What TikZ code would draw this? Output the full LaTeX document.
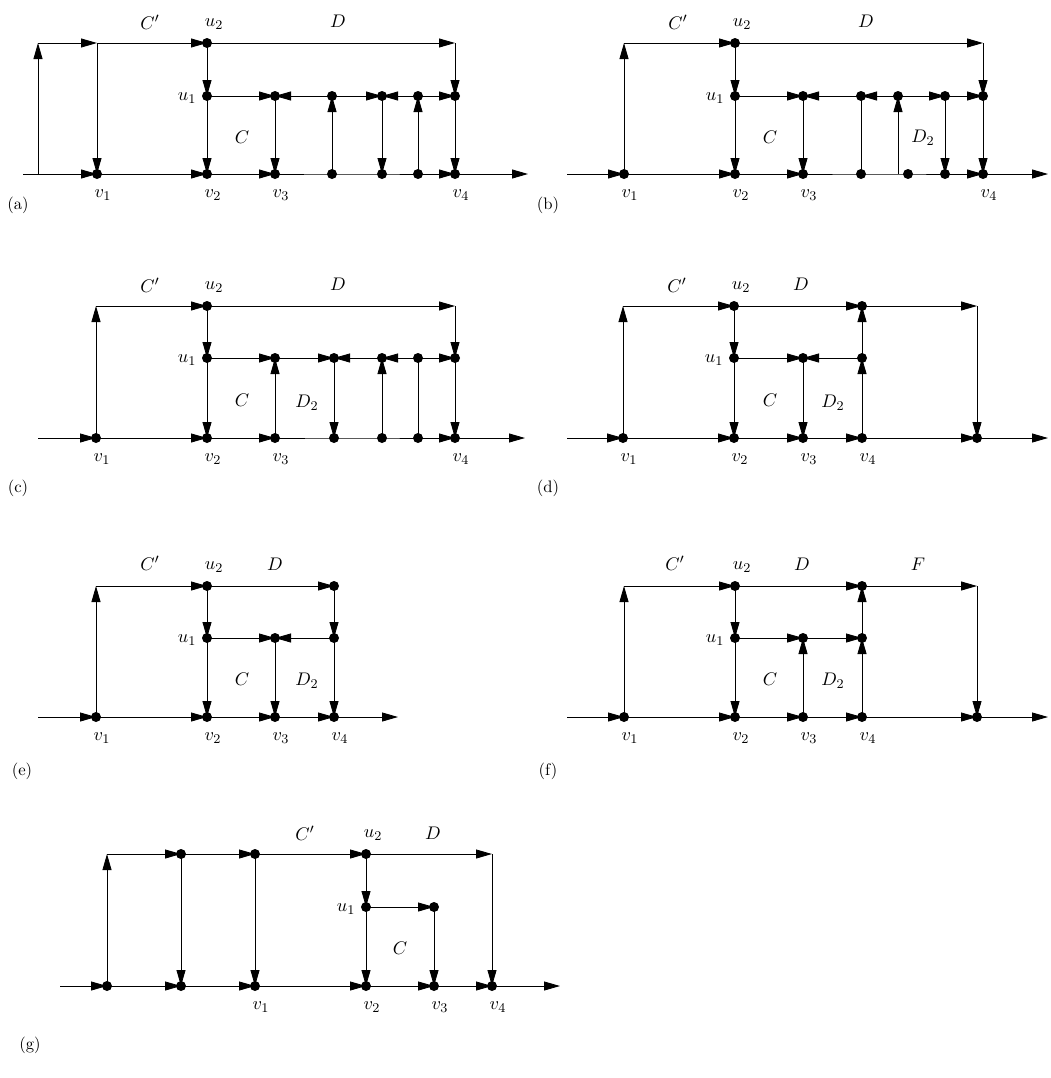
\documentclass[tikz,border=0pt]{standalone}
\usetikzlibrary{arrows.meta,calc}
\begin{document}
\begin{tikzpicture}[x=0.6pt,y=-0.6pt,
  ln/.style={line width=0.5pt},
  ar/.style={line width=0.5pt,-{Triangle[length=9.6pt,width=5.4pt]}},
  lab/.style={inner sep=0pt,font=\fontsize{11}{13}\selectfont},
  plab/.style={inner sep=0pt,font=\fontsize{10}{12}\selectfont}]
\useasboundingbox (0,0) rectangle (1051,1078);
\newcommand{\putdots}[1]{\foreach \p in {#1} {\fill (\p) circle (3pt);}}
\newcommand{\ulab}[1]{\node[lab] at ($(#1)+(7,-19)$) {$u_2$};}
\newcommand{\vlab}[2]{\node[lab] at ($(#1)+(6,21)$) {$#2$};}
\newcommand{\uonelab}[1]{\node[lab] at ($(#1)+(-20,2)$) {$u_1$};}

% ---------------- (a)
\coordinate (a-s) at (23,174); \coordinate (a-e) at (528,174);
\coordinate (a-l) at (38,174); \coordinate (a-lt) at (38,43);
\coordinate (a-c1) at (97,43); \coordinate (a-v1) at (97,174);
\coordinate (a-u2) at (207,43); \coordinate (a-u1) at (207,96); \coordinate (a-v2) at (207,174);
\coordinate (a-m3) at (275,96); \coordinate (a-v3) at (275,174);
\coordinate (a-m4) at (332,96); \coordinate (a-b4) at (332,174);
\coordinate (a-m5) at (382,96); \coordinate (a-b5) at (382,174);
\coordinate (a-m6) at (418,96); \coordinate (a-b6) at (418,174);
\coordinate (a-tc) at (455,43); \coordinate (a-m7) at (455,96); \coordinate (a-v4) at (455,174);
\draw[ar] (a-s) -- (a-v1);
\draw[ar] (a-l) -- (a-lt);
\draw[ar] (a-lt) -- (a-c1);
\draw[ar] (a-c1) -- (a-v1);
\draw[ar] (a-c1) -- (a-u2);
\draw[ar] (a-v1) -- (a-v2);
\draw[ar] (a-v2) -- (a-v3);
\draw[ln] (a-v3) -- (a-b4) -- (a-b5) -- (a-b6);
\draw[ar] (a-b6) -- (a-v4);
\draw[ar] (a-v4) -- (a-e);
\draw[ar] (a-u2) -- (a-tc);
\draw[ar] (a-tc) -- (a-m7);
\draw[ar] (a-m7) -- (a-v4);
\draw[ar] (a-u2) -- (a-u1);
\draw[ar] (a-u1) -- (a-v2);
\draw[ar] (a-u1) -- (a-m3);
\draw[ar] (a-m4) -- (a-m3);
\draw[ar] (a-m3) -- (a-v3);
\draw[ar] (a-b4) -- (a-m4);
\draw[ar] (a-m4) -- (a-m5);
\draw[ar] (a-m6) -- (a-m5);
\draw[ar] (a-m5) -- (a-b5);
\draw[ar] (a-b6) -- (a-m6);
\draw[ar] (a-m6) -- (a-m7);
\putdots{a-v1,a-u2,a-u1,a-v2,a-m3,a-v3,a-m4,a-b4,a-m5,a-b5,a-m6,a-b6,a-m7,a-v4}
\node[lab] (a-lCp) at (150,22) {$C'$};
\ulab{a-u2}
\node[lab] (a-lD) at (338,21) {$D$};
\uonelab{a-u1}
\node[lab] (a-lC) at (242,137) {$C$};
\vlab{a-v1}{v_1}\vlab{a-v2}{v_2}\vlab{a-v3}{v_3}\vlab{a-v4}{v_4}
\node[plab] (a-p) at (18,205) {(a)};

% ---------------- (b)
\coordinate (b-s) at (567,174); \coordinate (b-e) at (1048,174);
\coordinate (b-v1) at (624,174); \coordinate (b-lt) at (624,43);
\coordinate (b-u2) at (735,43); \coordinate (b-u1) at (735,96); \coordinate (b-v2) at (735,174);
\coordinate (b-m3) at (803,96); \coordinate (b-v3) at (803,174);
\coordinate (b-m4) at (861,96); \coordinate (b-b4) at (861,174);
\coordinate (b-m5) at (898,96); \coordinate (b-b5) at (898,174); \coordinate (b-b5d) at (908,174);
\coordinate (b-m6) at (945,96); \coordinate (b-b6) at (945,174);
\coordinate (b-tc) at (983,43); \coordinate (b-m7) at (983,96); \coordinate (b-v4) at (983,174);
\draw[ar] (b-s) -- (b-v1);
\draw[ar] (b-v1) -- (b-lt);
\draw[ar] (b-lt) -- (b-u2);
\draw[ar] (b-u2) -- (b-tc);
\draw[ar] (b-tc) -- (b-m7);
\draw[ar] (b-m7) -- (b-v4);
\draw[ar] (b-v1) -- (b-v2);
\draw[ar] (b-v2) -- (b-v3);
\draw[ln] (b-v3) -- (b-b4) -- (b-b5) -- (b-b5d) -- (b-b6);
\draw[ar] (b-b6) -- (b-v4);
\draw[ar] (b-v4) -- (b-e);
\draw[ar] (b-u2) -- (b-u1);
\draw[ar] (b-u1) -- (b-v2);
\draw[ar] (b-u1) -- (b-m3);
\draw[ar] (b-m4) -- (b-m3);
\draw[ar] (b-m3) -- (b-v3);
\draw[ln] (b-m4) -- (b-b4);
\draw[ar] (b-m5) -- (b-m4);
\draw[ar] (b-b5) -- (b-m5);
\draw[ar] (b-m5) -- (b-m6);
\draw[ar] (b-m6) -- (b-b6);
\draw[ar] (b-m6) -- (b-m7);
\putdots{b-v1,b-u2,b-u1,b-v2,b-m3,b-v3,b-m4,b-b4,b-m5,b-b5d,b-m6,b-b6,b-m7,b-v4}
\node[lab] (b-lCp) at (678,22) {$C'$};
\ulab{b-u2}
\node[lab] (b-lD) at (866,21) {$D$};
\uonelab{b-u1}
\node[lab] (b-lC) at (770,137) {$C$};
\node[lab] (b-lD2) at (923,138) {$D_2$};
\vlab{b-v1}{v_1}\vlab{b-v2}{v_2}\vlab{b-v3}{v_3}\vlab{b-v4}{v_4}
\node[plab] (b-p) at (548,205) {(b)};

% ---------------- (c)
\coordinate (c-s) at (38,438); \coordinate (c-e) at (525,438);
\coordinate (c-v1) at (96,438); \coordinate (c-lt) at (96,306);
\coordinate (c-u2) at (207,306); \coordinate (c-u1) at (207,358); \coordinate (c-v2) at (207,438);
\coordinate (c-m3) at (275,358); \coordinate (c-v3) at (275,438);
\coordinate (c-m4) at (334,358); \coordinate (c-b4) at (334,438);
\coordinate (c-m5) at (382,358); \coordinate (c-b5) at (382,438);
\coordinate (c-m6) at (418,358); \coordinate (c-b6) at (418,438);
\coordinate (c-tc) at (455,306); \coordinate (c-m7) at (455,358); \coordinate (c-v4) at (455,438);
\draw[ar] (c-s) -- (c-v1);
\draw[ar] (c-v1) -- (c-lt);
\draw[ar] (c-lt) -- (c-u2);
\draw[ar] (c-u2) -- (c-tc);
\draw[ar] (c-tc) -- (c-m7);
\draw[ar] (c-m7) -- (c-v4);
\draw[ar] (c-v1) -- (c-v2);
\draw[ar] (c-v2) -- (c-v3);
\draw[ln] (c-v3) -- (c-b4) -- (c-b5) -- (c-b6);
\draw[ar] (c-b6) -- (c-v4);
\draw[ar] (c-v4) -- (c-e);
\draw[ar] (c-u2) -- (c-u1);
\draw[ar] (c-u1) -- (c-v2);
\draw[ar] (c-u1) -- (c-m3);
\draw[ar] (c-v3) -- (c-m3);
\draw[ar] (c-m3) -- (c-m4);
\draw[ar] (c-m5) -- (c-m4);
\draw[ar] (c-m4) -- (c-b4);
\draw[ar] (c-m6) -- (c-m5);
\draw[ar] (c-b5) -- (c-m5);
\draw[ln] (c-m6) -- (c-b6);
\draw[ar] (c-m6) -- (c-m7);
\putdots{c-v1,c-u2,c-u1,c-v2,c-m3,c-v3,c-m4,c-b4,c-m5,c-b5,c-m6,c-b6,c-m7,c-v4}
\node[lab] (c-lCp) at (150,285) {$C'$};
\ulab{c-u2}
\node[lab] (c-lD) at (338,284) {$D$};
\uonelab{c-u1}
\node[lab] (c-lC) at (242,400) {$C$};
\node[lab] (c-lD2) at (307,403) {$D_2$};
\vlab{c-v1}{v_1}\vlab{c-v2}{v_2}\vlab{c-v3}{v_3}\vlab{c-v4}{v_4}
\node[plab] (c-p) at (18,488) {(c)};

% ---------------- (d)
\coordinate (d-s) at (567,438); \coordinate (d-e) at (1048,438);
\coordinate (d-v1) at (623,438); \coordinate (d-lt) at (623,306);
\coordinate (d-u2) at (734,306); \coordinate (d-u1) at (734,358); \coordinate (d-v2) at (734,438);
\coordinate (d-m3) at (803,358); \coordinate (d-v3) at (803,438);
\coordinate (d-t4) at (862,306); \coordinate (d-m4) at (862,358); \coordinate (d-v4) at (862,438);
\coordinate (d-tc) at (977,306); \coordinate (d-b5) at (977,438);
\draw[ar] (d-s) -- (d-v1);
\draw[ar] (d-v1) -- (d-lt);
\draw[ar] (d-lt) -- (d-u2);
\draw[ar] (d-u2) -- (d-t4);
\draw[ar] (d-t4) -- (d-tc);
\draw[ar] (d-tc) -- (d-b5);
\draw[ar] (d-v1) -- (d-v2);
\draw[ar] (d-v2) -- (d-v3);
\draw[ar] (d-v3) -- (d-v4);
\draw[ar] (d-v4) -- (d-b5);
\draw[ar] (d-b5) -- (d-e);
\draw[ar] (d-u2) -- (d-u1);
\draw[ar] (d-u1) -- (d-v2);
\draw[ar] (d-u1) -- (d-m3);
\draw[ar] (d-m4) -- (d-m3);
\draw[ar] (d-m3) -- (d-v3);
\draw[ar] (d-v4) -- (d-m4);
\draw[ar] (d-m4) -- (d-t4);
\putdots{d-v1,d-u2,d-u1,d-v2,d-m3,d-v3,d-t4,d-m4,d-v4,d-b5}
\node[lab] (d-lCp) at (677,285) {$C'$};
\ulab{d-u2}
\node[lab] (d-lD) at (801,284) {$D$};
\uonelab{d-u1}
\node[lab] (d-lC) at (770,400) {$C$};
\node[lab] (d-lD2) at (833,403) {$D_2$};
\vlab{d-v1}{v_1}\vlab{d-v2}{v_2}\vlab{d-v3}{v_3}\vlab{d-v4}{v_4}
\node[plab] (d-p) at (548,488) {(d)};

% ---------------- (e)
\coordinate (e-s) at (38,717); \coordinate (e-e) at (398,717);
\coordinate (e-v1) at (96,717); \coordinate (e-lt) at (96,586);
\coordinate (e-u2) at (207,586); \coordinate (e-u1) at (207,638); \coordinate (e-v2) at (207,717);
\coordinate (e-m3) at (275,638); \coordinate (e-v3) at (275,717);
\coordinate (e-t4) at (334,586); \coordinate (e-m4) at (334,638); \coordinate (e-v4) at (334,717);
\draw[ar] (e-s) -- (e-v1);
\draw[ar] (e-v1) -- (e-lt);
\draw[ar] (e-lt) -- (e-u2);
\draw[ar] (e-u2) -- (e-t4);
\draw[ar] (e-t4) -- (e-m4);
\draw[ar] (e-m4) -- (e-v4);
\draw[ar] (e-v1) -- (e-v2);
\draw[ar] (e-v2) -- (e-v3);
\draw[ar] (e-v3) -- (e-v4);
\draw[ar] (e-v4) -- (e-e);
\draw[ar] (e-u2) -- (e-u1);
\draw[ar] (e-u1) -- (e-v2);
\draw[ar] (e-u1) -- (e-m3);
\draw[ar] (e-m4) -- (e-m3);
\draw[ar] (e-m3) -- (e-v3);
\putdots{e-v1,e-u2,e-u1,e-v2,e-m3,e-v3,e-t4,e-m4,e-v4}
\node[lab] (e-lCp) at (150,563) {$C'$};
\ulab{e-u2}
\node[lab] (e-lD) at (275,564) {$D$};
\uonelab{e-u1}
\node[lab] (e-lC) at (242,679) {$C$};
\node[lab] (e-lD2) at (307,681) {$D_2$};
\vlab{e-v1}{v_1}\vlab{e-v2}{v_2}\vlab{e-v3}{v_3}\vlab{e-v4}{v_4}
\node[plab] (e-p) at (22,771) {(e)};

% ---------------- (f)
\coordinate (f-s) at (567,717); \coordinate (f-e) at (1048,717);
\coordinate (f-v1) at (624,717); \coordinate (f-lt) at (624,586);
\coordinate (f-u2) at (735,586); \coordinate (f-u1) at (735,638); \coordinate (f-v2) at (735,717);
\coordinate (f-m3) at (803,638); \coordinate (f-v3) at (803,717);
\coordinate (f-t4) at (862,586); \coordinate (f-m4) at (862,638); \coordinate (f-v4) at (862,717);
\coordinate (f-tc) at (977,586); \coordinate (f-b5) at (977,717);
\draw[ar] (f-s) -- (f-v1);
\draw[ar] (f-v1) -- (f-lt);
\draw[ar] (f-lt) -- (f-u2);
\draw[ar] (f-u2) -- (f-t4);
\draw[ar] (f-t4) -- (f-tc);
\draw[ar] (f-tc) -- (f-b5);
\draw[ar] (f-v1) -- (f-v2);
\draw[ar] (f-v2) -- (f-v3);
\draw[ar] (f-v3) -- (f-v4);
\draw[ar] (f-v4) -- (f-b5);
\draw[ar] (f-b5) -- (f-e);
\draw[ar] (f-u2) -- (f-u1);
\draw[ar] (f-u1) -- (f-v2);
\draw[ar] (f-u1) -- (f-m3);
\draw[ar] (f-m3) -- (f-m4);
\draw[ar] (f-v3) -- (f-m3);
\draw[ar] (f-v4) -- (f-m4);
\draw[ar] (f-m4) -- (f-t4);
\putdots{f-v1,f-u2,f-u1,f-v2,f-m3,f-v3,f-t4,f-m4,f-v4,f-b5}
\node[lab] (f-lCp) at (675,563) {$C'$};
\ulab{f-u2}
\node[lab] (f-lD) at (802,564) {$D$};
\node[lab] (f-lF) at (918,564) {$F$};
\uonelab{f-u1}
\node[lab] (f-lC) at (770,679) {$C$};
\node[lab] (f-lD2) at (833,681) {$D_2$};
\vlab{f-v1}{v_1}\vlab{f-v2}{v_2}\vlab{f-v3}{v_3}\vlab{f-v4}{v_4}
\node[plab] (f-p) at (548,771) {(f)};

% ---------------- (g)
\coordinate (g-s) at (60,986); \coordinate (g-e) at (560,986);
\coordinate (g-b0) at (107,986); \coordinate (g-lt) at (107,854);
\coordinate (g-t1) at (181,854); \coordinate (g-b1) at (181,986);
\coordinate (g-t2) at (255,854); \coordinate (g-v1) at (255,986);
\coordinate (g-u2) at (366,854); \coordinate (g-u1) at (366,907); \coordinate (g-v2) at (366,986);
\coordinate (g-m3) at (434,907); \coordinate (g-v3) at (434,986);
\coordinate (g-tc) at (492,854); \coordinate (g-v4) at (492,986);
\draw[ar] (g-s) -- (g-b0);
\draw[ar] (g-b0) -- (g-lt);
\draw[ar] (g-lt) -- (g-t1);
\draw[ar] (g-t1) -- (g-t2);
\draw[ar] (g-t2) -- (g-u2);
\draw[ar] (g-u2) -- (g-tc);
\draw[ar] (g-tc) -- (g-v4);
\draw[ar] (g-t1) -- (g-b1);
\draw[ar] (g-t2) -- (g-v1);
\draw[ar] (g-b0) -- (g-b1);
\draw[ar] (g-b1) -- (g-v1);
\draw[ar] (g-v1) -- (g-v2);
\draw[ar] (g-v2) -- (g-v3);
\draw[ar] (g-v3) -- (g-v4);
\draw[ar] (g-v4) -- (g-e);
\draw[ar] (g-u2) -- (g-u1);
\draw[ar] (g-u1) -- (g-v2);
\draw[ar] (g-u1) -- (g-m3);
\draw[ar] (g-m3) -- (g-v3);
\putdots{g-b0,g-t1,g-b1,g-t2,g-v1,g-u2,g-u1,g-v2,g-m3,g-v3,g-v4}
\node[lab] (g-lCp) at (305,833) {$C'$};
\ulab{g-u2}
\node[lab] (g-lD) at (433,833) {$D$};
\uonelab{g-u1}
\node[lab] (g-lC) at (400,948) {$C$};
\vlab{g-v1}{v_1}\vlab{g-v2}{v_2}\vlab{g-v3}{v_3}\vlab{g-v4}{v_4}
\node[plab] (g-p) at (30,1045) {(g)};
\end{tikzpicture}
\end{document}
